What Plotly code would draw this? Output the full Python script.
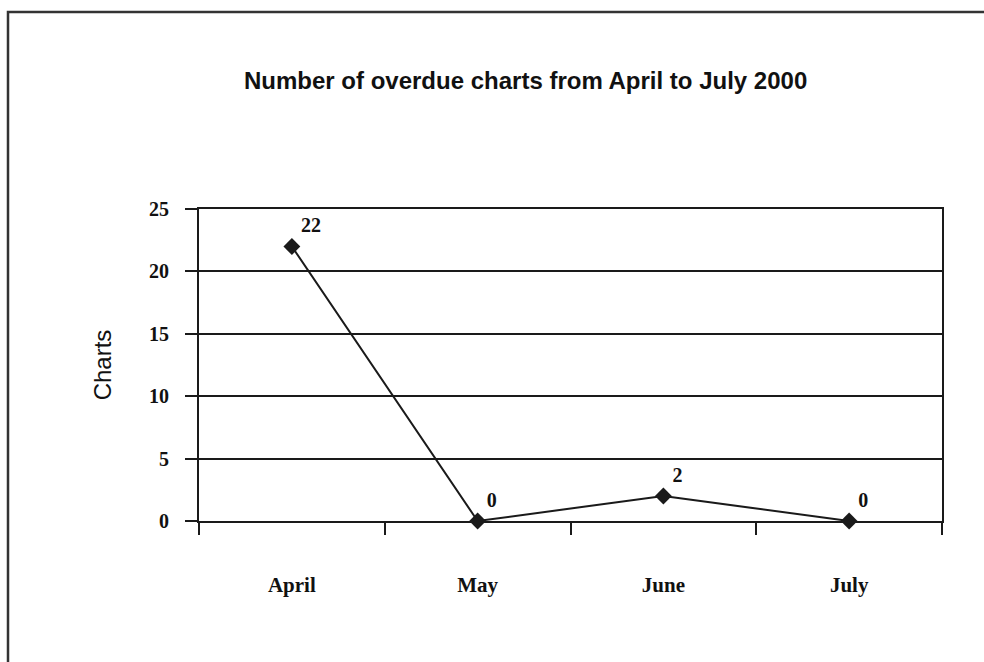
import plotly.graph_objects as go

months = ["April", "May", "June", "July"]
overdue = [22, 0, 2, 0]
y_ticks = [0, 5, 10, 15, 20, 25]

W, H = 984, 662
L, R, T, B = 199, 42, 209, 141
pw, ph = W - L - R, H - T - B

serif_bold = dict(family="Liberation Serif", weight="bold", color="#111111")

fig = go.Figure(
    go.Scatter(
        x=months,
        y=overdue,
        mode="lines+markers+text",
        line=dict(color="#1a1a1a", width=2),
        marker=dict(symbol="diamond", size=13, color="#1a1a1a"),
        text=[str(v) for v in overdue],
        textposition="top right",
        textfont=dict(size=20, **serif_bold),
        cliponaxis=False,
        hoverinfo="skip",
    )
)

# outer frame (top and left edges visible)
fig.add_shape(
    type="rect", xref="paper", yref="paper",
    x0=(8 - L) / pw, x1=(W + 20 - L) / pw,
    y0=-(B + 20) / ph, y1=1 + (T - 12) / ph,
    line=dict(color="#333333", width=2.5), layer="below",
)

fig.add_annotation(
    text="Number of overdue charts from April to July 2000",
    xref="paper", yref="paper",
    x=(525 - L) / pw, y=1 + (T - 80) / ph,
    xanchor="center", yanchor="middle",
    showarrow=False,
    font=dict(family="Liberation Sans", weight="bold", size=24, color="#111111"),
)

fig.update_layout(
    width=W, height=H,
    margin=dict(l=L, r=R, t=T, b=B),
    paper_bgcolor="white", plot_bgcolor="white",
    showlegend=False,
    xaxis=dict(
        type="category",
        categoryorder="array", categoryarray=months,
        range=[-0.5, len(months) - 0.5],
        tickson="boundaries",
        ticks="outside", ticklen=12, tickwidth=2, tickcolor="#1a1a1a",
        showline=True, linecolor="#1a1a1a", linewidth=2, mirror=True,
        showgrid=False,
        ticklabelstandoff=44,
        tickfont=dict(size=21, **serif_bold),
    ),
    yaxis=dict(
        range=[0, 25],
        tickvals=y_ticks,
        ticks="outside", ticklen=12, tickwidth=2, tickcolor="#1a1a1a",
        showline=True, linecolor="#1a1a1a", linewidth=2, mirror=True,
        showgrid=True, gridcolor="#1a1a1a", gridwidth=2,
        zeroline=False,
        ticklabelstandoff=12,
        tickfont=dict(size=20, **serif_bold),
        title=dict(text="Charts", standoff=31,
                   font=dict(family="Liberation Sans", size=24, color="#111111")),
    ),
)

fig.write_html("out.html")
